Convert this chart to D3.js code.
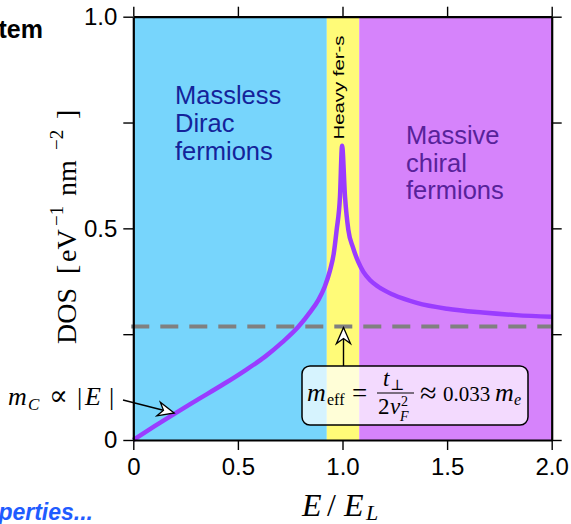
<!DOCTYPE html>
<html>
<meta charset="utf-8">
<head>
<style>
body { margin: 0; background: #fff; }
text { font-family: "Liberation Sans", Arial, sans-serif; }
.math, .math text { font-family: "Liberation Serif", "DejaVu Serif", serif; }
.axis text { font-size: 24px; fill: #000; font-family: "Liberation Sans", Arial, sans-serif; }
.axis line { stroke: #000; stroke-width: 1.4; }
.axis path { stroke: #000; stroke-width: 2.2; }
</style>
<script src="https://d3js.org/d3.v7.min.js"></script>
</head>
<body>
<svg width="571" height="524"></svg>
<script>
// DOS curve
var energy = [0, 0.1, 0.2, 0.3, 0.438, 0.53, 0.63, 0.71, 0.79, 0.845, 0.885, 0.915, 0.94, 0.958, 0.972, 0.988, 0.998,
              1.012, 1.028, 1.05, 1.076, 1.1, 1.131, 1.171, 1.243, 1.355, 1.5, 1.67, 1.83, 2.0];
var dos = [0, 0.032, 0.063, 0.093, 0.134, 0.163, 0.197, 0.23, 0.268, 0.302, 0.331, 0.362, 0.40, 0.44, 0.496, 0.575, 0.695,
           0.575, 0.496, 0.455, 0.42, 0.397, 0.378, 0.362, 0.343, 0.324, 0.310, 0.301, 0.295, 0.291];

var regionNames = ["dirac", "heavy", "chiral"];
var regionFrom = [0, 0.925, 1.08];
var regionTo = [0.925, 1.08, 2.0];

var xTicks = [0, 0.5, 1.0, 1.5, 2.0];
var xTickLabels = ["0", "0.5", "1.0", "1.5", "2.0"];
var yTicks = [0, 0.25, 0.5, 0.75, 1.0];
var yTickLabels = ["0", "", "0.5", "", "1.0"];

var mEffLevel = 0.268;
var arrowAtE = 0.2;

var bandColor = {dirac: "#77d5fc", heavy: "#fffb78", chiral: "#d683fb"};

var svg = d3.select("svg");

var x = d3.scaleLinear().domain([0, 2]).range([133.3, 551.7]);
var y = d3.scaleLinear().domain([0, 1]).range([440, 16.7]);

var defs = svg.append("defs");
defs.append("marker")
    .attr("id", "open")
    .attr("viewBox", "-18 -9 20 18")
    .attr("refX", 0).attr("refY", 0)
    .attr("markerWidth", 20).attr("markerHeight", 18)
    .attr("markerUnits", "userSpaceOnUse")
    .attr("orient", "auto")
  .append("path")
    .attr("d", "M0,0 L-16,-7 L-11,0 L-16,7 Z")
    .attr("fill", "#fff")
    .attr("stroke", "#000")
    .attr("stroke-width", 1.3);

// background bands
svg.selectAll(".band")
  .data(regionNames)
  .enter().append("rect")
    .attr("class", "band")
    .attr("x", function(d, i) { return x(regionFrom[i]); })
    .attr("width", function(d, i) { return x(regionTo[i]) - x(regionFrom[i]); })
    .attr("y", y(1))
    .attr("height", y(0) - y(1))
    .attr("fill", function(d) { return bandColor[d]; });

// region labels
var dirac = svg.append("text").attr("fill", "#14239a").style("font-size", "25.5px");
["Massless", "Dirac", "fermions"].forEach(function(s, i) {
  dirac.append("tspan").attr("x", 175).attr("y", 103.5 + i * 28).text(s);
});
var chiral = svg.append("text").attr("fill", "#58229a").style("font-size", "25.5px");
["Massive", "chiral", "fermions"].forEach(function(s, i) {
  chiral.append("tspan").attr("x", 406).attr("y", 144 + i * 27.5).text(s);
});
svg.append("text")
    .attr("transform", "translate(344," + 87.5 + ") rotate(-90)")
    .attr("text-anchor", "middle")
    .attr("textLength", 104)
    .attr("lengthAdjust", "spacingAndGlyphs")
    .style("font-size", "14px")
    .text("Heavy fer-s");

// m_eff dashed level
svg.append("line")
    .attr("x1", x(0) - 2).attr("x2", x(2))
    .attr("y1", y(mEffLevel)).attr("y2", y(mEffLevel))
    .attr("stroke", "#808080")
    .attr("stroke-width", 4)
    .attr("stroke-dasharray", "18,11");

// DOS curve
var line = d3.line()
    .x(function(d, i) { return x(energy[i]); })
    .y(function(d) { return y(d); })
    .curve(d3.curveMonotoneX);

svg.append("path")
    .datum(dos)
    .attr("d", line)
    .attr("fill", "none")
    .attr("stroke", "#9a3cff")
    .attr("stroke-width", 4.5)
    .attr("stroke-linejoin", "round");

// annotation box
svg.append("line")
    .attr("x1", x(1.0) + 1).attr("x2", x(1.0) + 1)
    .attr("y1", 366).attr("y2", y(mEffLevel) + 1)
    .attr("stroke", "#000").attr("stroke-width", 1.4)
    .attr("marker-end", "url(#open)");

svg.append("rect")
    .attr("x", 302).attr("y", 366)
    .attr("width", 226).attr("height", 59)
    .attr("rx", 8)
    .attr("fill", "rgba(255,255,255,0.7)")
    .attr("stroke", "#000")
    .attr("stroke-width", 1.5);

var eq = svg.append("g").attr("class", "math").style("font-size", "23px");
eq.append("text").attr("x", 307).attr("y", 401).style("font-style", "italic").style("font-size", "26px").text("m");
eq.append("text").attr("x", 327).attr("y", 405).style("font-size", "16px").text("eff");
eq.append("text").attr("x", 352).attr("y", 402).style("font-size", "27px").text("=");
eq.append("text").attr("x", 383).attr("y", 386).style("font-style", "italic").text("t");
eq.append("text").attr("x", 390).attr("y", 390).style("font-size", "15px").text("⊥");
eq.append("line").attr("x1", 377).attr("x2", 414).attr("y1", 393).attr("y2", 393)
    .attr("stroke", "#000").attr("stroke-width", 1);
eq.append("text").attr("x", 378).attr("y", 414).text("2");
eq.append("text").attr("x", 390).attr("y", 414).style("font-style", "italic").text("v");
eq.append("text").attr("x", 401).attr("y", 406).style("font-size", "14px").text("2");
eq.append("text").attr("x", 400).attr("y", 421).style("font-size", "14px").style("font-style", "italic").text("F");
eq.append("text").attr("x", 420).attr("y", 403).style("font-size", "30px").text("≈");
eq.append("text").attr("x", 443).attr("y", 401).style("font-size", "21px").text("0.033");
eq.append("text").attr("x", 495).attr("y", 401).style("font-style", "italic").style("font-size", "26px").text("m");
eq.append("text").attr("x", 514).attr("y", 405).style("font-size", "16px").style("font-style", "italic").text("e");

// m_C annotation
svg.append("line")
    .attr("x1", 123).attr("y1", 400)
    .attr("x2", x(arrowAtE) - 1).attr("y2", 413)
    .attr("stroke", "#000").attr("stroke-width", 1.4)
    .attr("marker-end", "url(#open)");

var mc = svg.append("g").attr("class", "math").style("font-size", "26px");
mc.append("text").attr("x", 8).attr("y", 405).style("font-style", "italic").text("m");
mc.append("text").attr("x", 28).attr("y", 410).style("font-size", "17px").style("font-style", "italic").text("C");
mc.append("text").attr("x", 49).attr("y", 405).style("font-size", "28px").text("∝");
mc.append("text").attr("x", 77).attr("y", 405).text("|");
mc.append("text").attr("x", 85).attr("y", 405).style("font-style", "italic").text("E");
mc.append("text").attr("x", 109).attr("y", 405).text("|");

// axes
var axBottom = d3.axisBottom(x).tickValues(xTicks)
    .tickFormat(function(d, i) { return xTickLabels[i]; })
    .tickSizeInner(10).tickSizeOuter(0).tickPadding(8);
var axTop = d3.axisTop(x).tickValues(xTicks).tickFormat("")
    .tickSizeInner(10).tickSizeOuter(0);
var axLeft = d3.axisLeft(y).tickValues(yTicks)
    .tickFormat(function(d, i) { return yTickLabels[i]; })
    .tickSizeInner(10).tickSizeOuter(0).tickPadding(6);
var axRight = d3.axisRight(y).tickValues(yTicks).tickFormat("")
    .tickSizeInner(10).tickSizeOuter(0);

svg.append("g").attr("class", "axis").attr("transform", "translate(0," + y(0) + ")").call(axBottom);
svg.append("g").attr("class", "axis").attr("transform", "translate(0," + y(1) + ")").call(axTop);
svg.append("g").attr("class", "axis").attr("transform", "translate(" + x(0) + ",0)").call(axLeft);
svg.append("g").attr("class", "axis").attr("transform", "translate(" + x(2) + ",0)").call(axRight);

// axis titles
var yl = svg.append("g").attr("class", "math")
    .attr("transform", "translate(76,344) rotate(-90)")
    .style("font-size", "28px");
yl.append("text").attr("x", 0).attr("y", 0).text("DOS");
yl.append("text").attr("x", 70).attr("y", 0).text("[");
yl.append("text").attr("x", 82).attr("y", 0).text("eV");
yl.append("text").attr("x", 118).attr("y", -13).style("font-size", "19px").text("−1");
yl.append("text").attr("x", 148).attr("y", 0).text("nm");
yl.append("text").attr("x", 194).attr("y", -13).style("font-size", "19px").text("−2");
yl.append("text").attr("x", 225).attr("y", 0).text("]");

var xl = svg.append("g").attr("class", "math")
    .style("font-size", "32px").style("font-style", "italic");
xl.append("text").attr("x", 302).attr("y", 516).text("E");
xl.append("text").attr("x", 327).attr("y", 516).style("font-style", "normal").text("/");
xl.append("text").attr("x", 344).attr("y", 516).text("E");
xl.append("text").attr("x", 366).attr("y", 520).style("font-size", "22px").text("L");

// cropped neighbours
svg.append("text")
    .attr("x", 43).attr("y", 38)
    .attr("text-anchor", "end")
    .style("font-size", "25px").style("font-weight", "bold")
    .text("tem");
svg.append("text")
    .attr("x", 93).attr("y", 520)
    .attr("text-anchor", "end")
    .attr("fill", "#1f5cff")
    .style("font-size", "23px").style("font-weight", "bold").style("font-style", "italic")
    .text("perties...");
</script>
</body>
</html>
